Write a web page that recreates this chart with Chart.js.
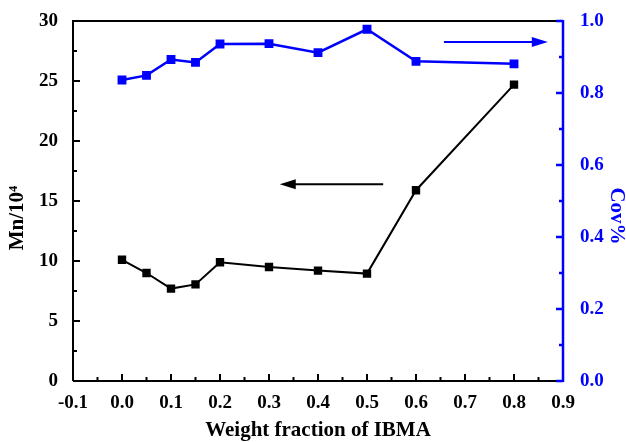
<!DOCTYPE html>
<html><head><meta charset="utf-8">
<script src="https://cdn.jsdelivr.net/npm/chart.js@4/dist/chart.umd.min.js"></script>
<style>html,body{margin:0;padding:0;background:#fff}#wrap{width:626px;height:442px}</style>
</head><body><div id="wrap"><canvas id="c" width="626" height="442"></canvas></div>
<script>
const weightFraction = [0.0, 0.05, 0.1, 0.15, 0.2, 0.3, 0.4, 0.5, 0.6, 0.8];
const mnValues = [10.1, 9.0, 7.7, 8.05, 9.9, 9.5, 9.2, 8.95, 15.9, 24.7];
const covValues = [0.836, 0.849, 0.893, 0.885, 0.936, 0.937, 0.912, 0.977, 0.888, 0.881];
const xTicks = [-0.1, 0.0, 0.1, 0.2, 0.3, 0.4, 0.5, 0.6, 0.7, 0.8, 0.9];
const mnTicks = [0, 5, 10, 15, 20, 25, 30];
const covTicks = [0.0, 0.2, 0.4, 0.6, 0.8, 1.0];
const xTitle = 'Weight fraction of IBMA';
const yTitle = 'Mn/10\u2074';
const y2Title = 'Cov%';
// arrows: [xStart, xEnd, y] in data units
const mnArrow = [0.533, 0.322, 16.4];
const covArrow = [0.657, 0.869, 0.942];

const BLUE = '#0000ff';
const FAMILY = "'Liberation Serif', 'Times New Roman', serif";
const FONT = {family: FAMILY, size: 19, weight: 'bold'};
const TITLE_FONT = 'bold 21px ' + FAMILY;

const axesPlugin = {
  id: 'axesPlugin',
  afterDatasetsDraw(chart) {
    const ctx = chart.ctx, a = chart.chartArea;
    const x = chart.scales.x, y = chart.scales.y, y2 = chart.scales.y2;
    ctx.save();
    ctx.lineWidth = 2;
    ctx.strokeStyle = '#000';
    ctx.beginPath();
    ctx.moveTo(a.left, a.top); ctx.lineTo(a.right, a.top);
    ctx.moveTo(a.left, a.top - 1); ctx.lineTo(a.left, a.bottom);
    ctx.moveTo(a.left, a.bottom); ctx.lineTo(a.right, a.bottom);
    for (let i = 0; i < xTicks.length; i++) {
      const px = x.getPixelForValue(xTicks[i]);
      ctx.moveTo(px, a.bottom); ctx.lineTo(px, a.bottom - 7);
      if (i < xTicks.length - 1) {
        const pm = x.getPixelForValue((xTicks[i] + xTicks[i + 1]) / 2);
        ctx.moveTo(pm, a.bottom); ctx.lineTo(pm, a.bottom - 4);
      }
    }
    for (let i = 0; i < mnTicks.length; i++) {
      const py = y.getPixelForValue(mnTicks[i]);
      ctx.moveTo(a.left, py); ctx.lineTo(a.left + 7, py);
      if (i < mnTicks.length - 1) {
        const pm = y.getPixelForValue((mnTicks[i] + mnTicks[i + 1]) / 2);
        ctx.moveTo(a.left, pm); ctx.lineTo(a.left + 4, pm);
      }
    }
    ctx.stroke();
    ctx.strokeStyle = BLUE;
    ctx.lineWidth = 2.5;
    ctx.beginPath();
    ctx.moveTo(a.right, a.top - 1); ctx.lineTo(a.right, a.bottom + 1);
    for (let i = 0; i < covTicks.length; i++) {
      const py = y2.getPixelForValue(covTicks[i]);
      ctx.moveTo(a.right, py); ctx.lineTo(a.right - 7, py);
      if (i < covTicks.length - 1) {
        const pm = y2.getPixelForValue((covTicks[i] + covTicks[i + 1]) / 2);
        ctx.moveTo(a.right, pm); ctx.lineTo(a.right - 4, pm);
      }
    }
    ctx.stroke();
    function arrow(x1, x2, py, color) {
      const dir = Math.sign(x2 - x1);
      ctx.strokeStyle = color; ctx.fillStyle = color; ctx.lineWidth = 2;
      ctx.beginPath(); ctx.moveTo(x1, py); ctx.lineTo(x2 - dir * 12, py); ctx.stroke();
      ctx.beginPath(); ctx.moveTo(x2, py); ctx.lineTo(x2 - dir * 16, py - 5); ctx.lineTo(x2 - dir * 16, py + 5); ctx.closePath(); ctx.fill();
    }
    arrow(x.getPixelForValue(mnArrow[0]), x.getPixelForValue(mnArrow[1]), y.getPixelForValue(mnArrow[2]), '#000');
    arrow(x.getPixelForValue(covArrow[0]), x.getPixelForValue(covArrow[1]), y2.getPixelForValue(covArrow[2]), BLUE);
    // axis titles
    const H = chart.height, W = chart.width;
    ctx.font = TITLE_FONT;
    ctx.textAlign = 'center'; ctx.textBaseline = 'middle';
    ctx.fillStyle = '#000';
    ctx.fillText(xTitle, (a.left + a.right) / 2, 431);
    ctx.save(); ctx.translate(18, H / 2 - 3); ctx.rotate(-Math.PI / 2);
    ctx.fillText(yTitle, 0, 0); ctx.restore();
    ctx.fillStyle = BLUE;
    ctx.save(); ctx.translate(W - 10, H / 2 - 5); ctx.rotate(Math.PI / 2);
    ctx.fillText(y2Title, 0, 0); ctx.restore();
    ctx.restore();
  }
};

new Chart(document.getElementById('c'), {
  type: 'scatter',
  data: {
    datasets: [
      {label: 'Mn', data: weightFraction.map((v, i) => ({x: v, y: mnValues[i]})), yAxisID: 'y',
       showLine: true, borderColor: '#000', backgroundColor: '#000', borderWidth: 2,
       pointStyle: 'rect', pointRadius: 4.5, pointHoverRadius: 4.5},
      {label: 'Cov', data: weightFraction.map((v, i) => ({x: v, y: covValues[i]})), yAxisID: 'y2',
       showLine: true, borderColor: BLUE, backgroundColor: BLUE, borderWidth: 2.5,
       pointStyle: 'rect', pointRadius: 4.5, pointHoverRadius: 4.5}
    ]
  },
  options: {
    responsive: false, animation: false,
    layout: {padding: {top: 21, left: 0, right: 0, bottom: 0}},
    plugins: {legend: {display: false}, tooltip: {enabled: false}},
    scales: {
      x: {type: 'linear', min: -0.1, max: 0.9,
          afterBuildTicks: s => { s.ticks = xTicks.map(v => ({value: v})); },
          afterFit: s => { s.height = 61; },
          grid: {display: false}, border: {display: false},
          ticks: {color: '#000', font: FONT, padding: 3, callback: v => v.toFixed(1)}},
      y: {type: 'linear', position: 'left', min: 0, max: 30,
          afterBuildTicks: s => { s.ticks = mnTicks.map(v => ({value: v})); },
          afterFit: s => { s.width = 73; },
          grid: {display: false}, border: {display: false},
          ticks: {color: '#000', font: FONT, padding: 7, callback: v => String(v)}},
      y2: {type: 'linear', position: 'right', min: 0, max: 1,
          afterBuildTicks: s => { s.ticks = covTicks.map(v => ({value: v})); },
          afterFit: s => { s.width = 63; },
          grid: {display: false}, border: {display: false},
          ticks: {color: BLUE, font: FONT, padding: 9, callback: v => v.toFixed(1)}}
    }
  },
  plugins: [axesPlugin]
});
</script>
</body></html>
